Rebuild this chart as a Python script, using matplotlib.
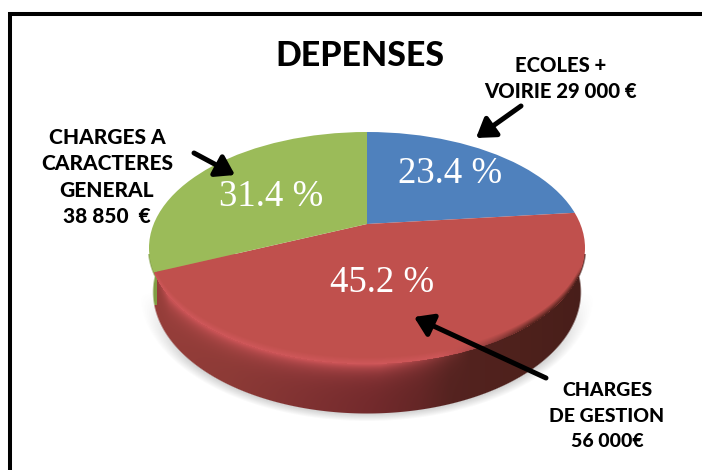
import numpy as np
import matplotlib
matplotlib.use("Agg")
import matplotlib.pyplot as plt
from matplotlib.patches import Ellipse

W, H = 702, 470
shares = [23.4, 45.2, 31.4]
slice_colors = ["#4F81BD", "#C0504D", "#9BBB59"]
share_labels = ["23.4 %", "45.2 %", "31.4 %"]
title = "DEPENSES"
cat_labels = ["ECOLES +\nVOIRIE 29 000 €",
              "CHARGES\nDE GESTION\n56 000€",
              "CHARGES A\nCARACTERES\nGENERAL\n38 850  €"]

fig = plt.figure(figsize=(W / 100, H / 100), dpi=100, facecolor="white")


def pixel_axes(z):
    a = fig.add_axes([0, 0, 1, 1], zorder=z)
    a.set_xlim(0, W)
    a.set_ylim(H, 0)
    a.axis("off")
    a.patch.set_alpha(0)
    return a


bg = pixel_axes(0)
top = pixel_axes(3)

# geometry of the drum (pixels)
cx, cy, rx, ry = 367.0, 248.0, 218.0, 116.0
bx, by, brx, bry = 367.0, 292.0, 213.0, 121.0
yy, xx = np.mgrid[0:H, 0:W] + 0.5
dx = xx - cx
y_top = cy + ry * np.sqrt(np.clip(1 - (dx / rx) ** 2, 0, 1))
s = yy - y_top
r_top = np.sqrt((dx / rx) ** 2 + ((yy - cy) / ry) ** 2)
r_bot = np.sqrt(((xx - bx) / brx) ** 2 + ((yy - by) / bry) ** 2)

# soft ground shadow
shadow = np.zeros((H, W, 4))
shadow[..., :3] = 0.35
shadow[..., 3] = (0.30 * np.clip(1 - (r_bot - 1) / 0.07, 0, 1) * (r_bot >= 1)
                  * np.clip((yy - by) / 70, 0, 1))
bg.imshow(shadow, extent=(0, W, H, 0), aspect="auto", interpolation="bilinear", zorder=1)

# side wall
stops_x = [150, 230, 300, 370, 420, 450, 520, 585]
stops_r = [150, 140, 128, 115, 100, 85, 78, 72]
stops_g = [62, 58, 50, 42, 38, 35, 33, 30]
stops_b = [58, 54, 50, 44, 38, 32, 28, 26]
base = np.stack([np.interp(xx, stops_x, c) for c in (stops_r, stops_g, stops_b)], axis=-1) / 255
base[(xx < 157) & (yy < 305)] = np.array([128, 158, 68]) / 255
hi_w = np.clip((470 - xx) / 90, 0, 1)[..., None] * np.clip((xx - 157) / 12, 0, 1)[..., None]
hi = np.array([205, 85, 88]) / 255
glow = np.exp(-np.clip(s, 0, None) / 9.0)[..., None] * hi_w
side = np.zeros((H, W, 4))
side[..., :3] = base * (1 - glow) + hi * glow
a_bot = np.clip(1 - (r_bot - 1) * 120, 0, 1)
a_top = np.clip(1 - (r_top - 1) * 120, 0, 1)
side[..., 3] = np.maximum(a_bot, a_top) * (yy > cy + 6)
bg.imshow(side, extent=(0, W, H, 0), aspect="auto", interpolation="nearest", zorder=2)

# top face: pie centred on the apex, cut by the drum outline
ax_x0, ax_x1, ax_y0, ax_y1 = 67, 667, 64, 384
pie_ax = fig.add_axes([ax_x0 / W, 1 - ax_y1 / H, (ax_x1 - ax_x0) / W, (ax_y1 - ax_y0) / H], zorder=1)
wedges, _ = pie_ax.pie(shares, colors=slice_colors, startangle=90, counterclock=False,
                       radius=1.0, center=(0, 0), wedgeprops={"linewidth": 0})
pie_ax.set_aspect("auto")
pie_ax.set_xlim(-1, 1)
pie_ax.set_ylim(-1, 1)
pie_ax.axis("off")
outline = Ellipse((cx, cy), 2 * rx, 2 * ry, transform=bg.transData)
for w in wedges:
    w.set_clip_on(True)
    w.set_clip_path(outline)

# rim of the top face: bright bottom left, dark towards the right
rim = np.zeros((H, W, 4))
dark_w = np.clip((xx - 440) / 90, 0, 1)
rim[..., :3] = (np.array([212, 90, 94]) / 255)[None, None] * (1 - dark_w[..., None]) + \
               (np.array([85, 36, 30]) / 255)[None, None] * dark_w[..., None]
band = np.clip(1 + s / 7.0, 0, 1) * (s <= 0) * np.clip((yy - cy - 18) / 12, 0, 1) * (xx > 155)
rim[..., 3] = band * (0.75 + 0.25 * dark_w) * (r_top <= 1)
top.imshow(rim, extent=(0, W, H, 0), aspect="auto", interpolation="nearest", zorder=1)

# frame (only the top and left sides reach the picture)
top.plot([9.5, 9.5, W], [H, 13.5, 13.5], color="black", lw=2.9, solid_joinstyle="miter", zorder=5)

# texts
SANS = "Lato"
top.text(360, 56, title, ha="center", va="center", fontsize=24.3, family=SANS, weight="black", zorder=6)
top.text(561, 78.5, cat_labels[0], ha="center", va="center", fontsize=14.6, family=SANS,
         weight="black", linespacing=1.42, zorder=6)
top.text(607, 416, cat_labels[1], ha="center", va="center", fontsize=14.0, family=SANS,
         weight="black", linespacing=1.62, zorder=6)
top.text(107, 177, cat_labels[2], ha="center", va="center", fontsize=15.0, family=SANS,
         weight="black", linespacing=1.47, zorder=6)

for lab, (x, y) in zip(share_labels, [(450, 174), (382, 283), (271, 197)]):
    top.text(x, y, lab, ha="center", va="center", color="white", fontsize=26.5,
             family="Liberation Serif", zorder=6)

# arrows
for start, end in [((521, 106), (476, 138)), ((194, 153), (235, 175)), ((546, 378), (414, 317))]:
    top.annotate("", xy=end, xytext=start, zorder=7,
                 arrowprops=dict(arrowstyle="-|>,head_length=0.55,head_width=0.36", color="black",
                                 lw=3.6, shrinkA=0, shrinkB=0, mutation_scale=20))

fig.savefig("out.png", dpi=100)
